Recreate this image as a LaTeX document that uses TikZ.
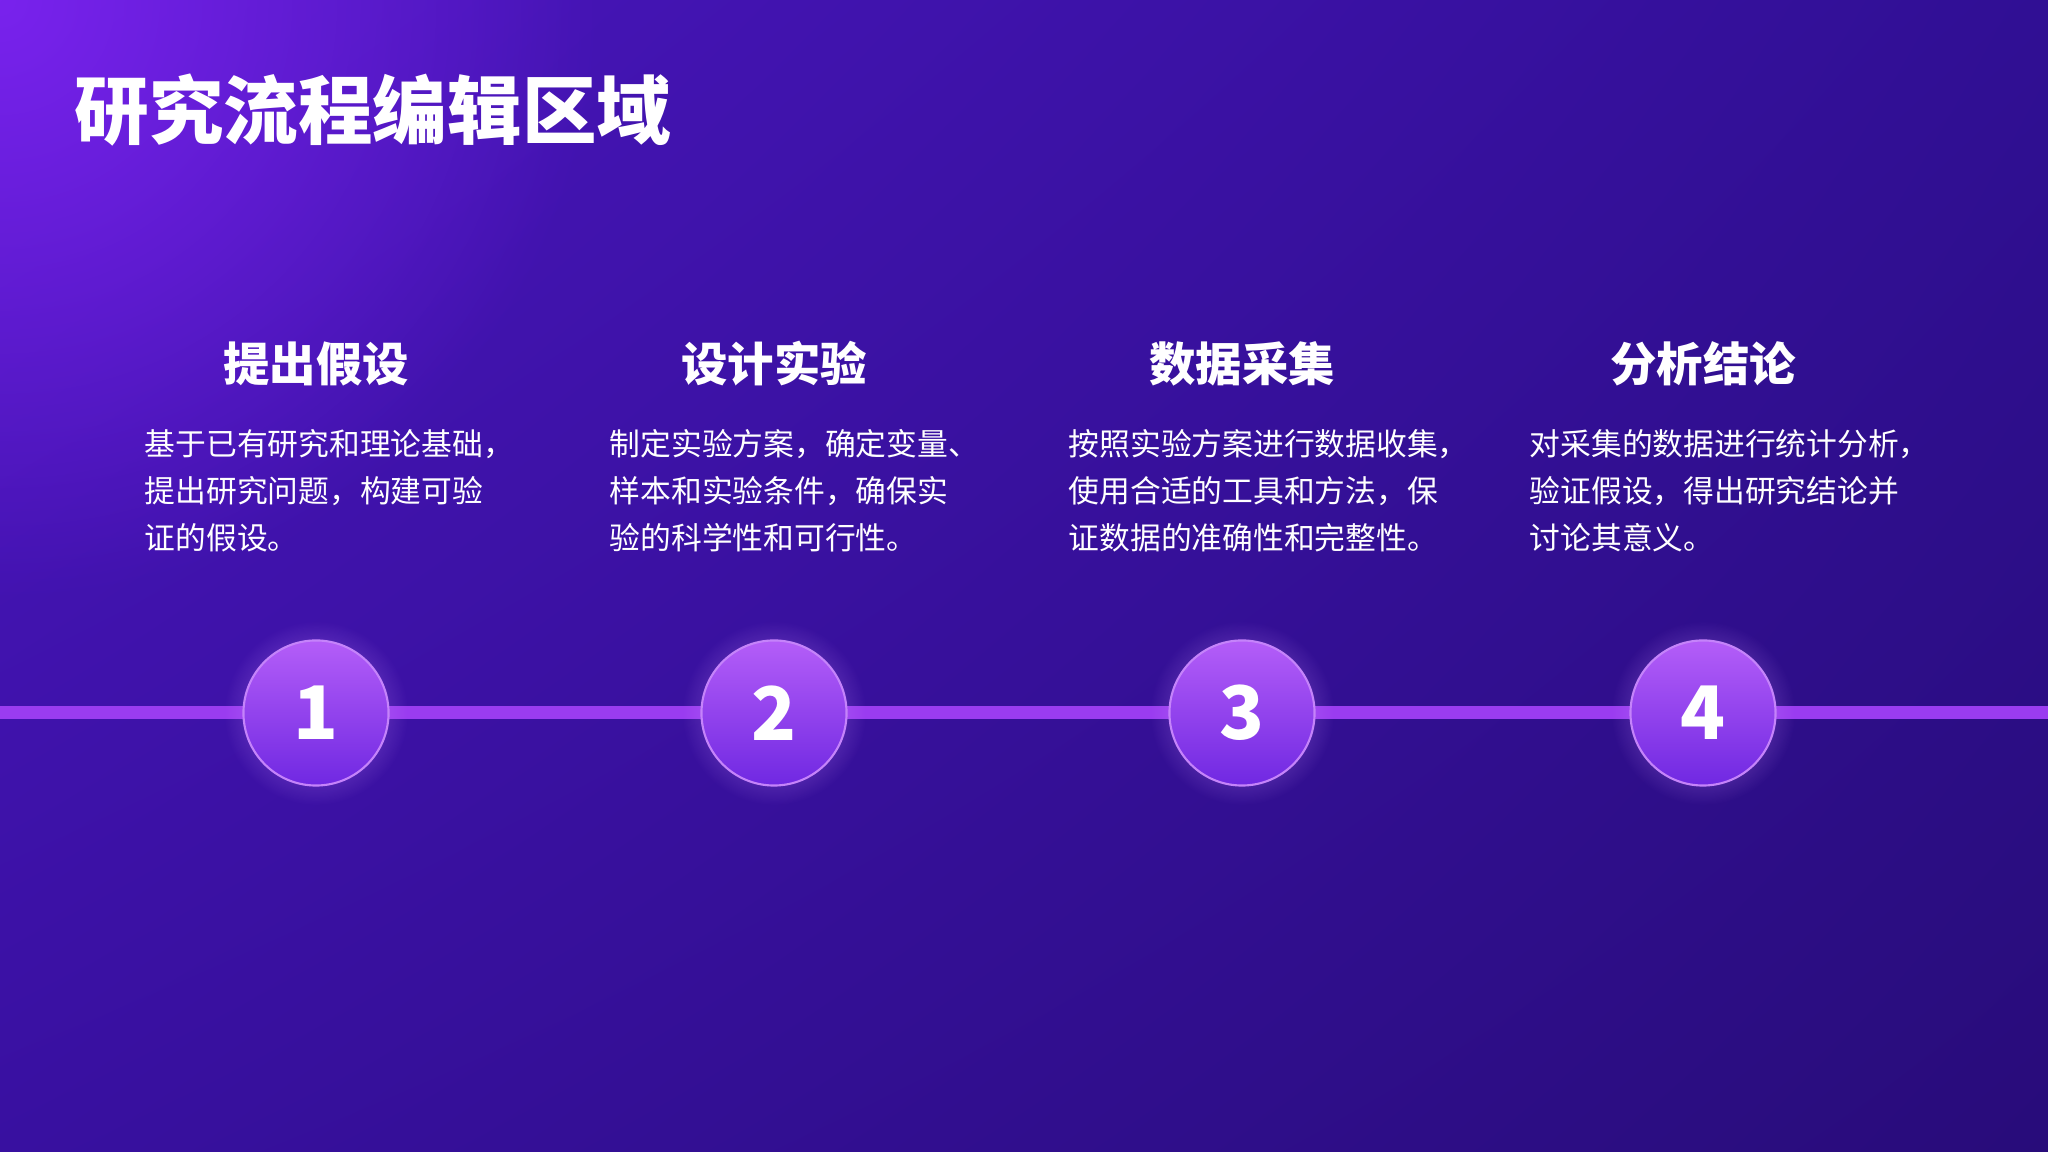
\documentclass[tikz,border=0pt]{standalone}
\usepackage{fontspec}
\setmainfont{Noto Sans CJK SC}
\usetikzlibrary{positioning,fadings,shadings}
\definecolor{bgtl}{HTML}{4C16C0}
\definecolor{bgtr}{HTML}{300F94}
\definecolor{bgbl}{HTML}{3810A0}
\definecolor{bgbr}{HTML}{280C7A}
\definecolor{glowtl}{HTML}{7E24F2}
\definecolor{linecol}{HTML}{9A3CF0}
\definecolor{balltop}{HTML}{B45EF8}
\definecolor{ballbot}{HTML}{7028E2}
\definecolor{ballrim}{HTML}{C98CFB}
\tikzfading[name=softglow, inner color=transparent!0, outer color=transparent!100]
\tikzset{
  stepball/.style={circle, minimum size=1.45cm, inner sep=0pt,
    top color=balltop, bottom color=ballbot, draw=ballrim!80!balltop, line width=0.6pt,
    text=white, font=\fontsize{21}{22}\selectfont\bfseries},
  steptitle/.style={anchor=base, inner sep=0pt, text=white,
    font=\fontsize{13.2}{14}\selectfont\bfseries},
  stepbody/.style={anchor=base west, inner sep=0pt, align=left, text=white,
    font=\fontsize{8.75}{13.4}\selectfont},
}
\begin{document}
\begin{tikzpicture}[x=0.01cm,y=0.01cm]
\useasboundingbox (0,0) rectangle (2048,1152);
% background
\shade[upper left=bgtl, upper right=bgtr, lower left=bgbl, lower right=bgbr]
  (0,0) rectangle (2048,1152);
\begin{scope}
\clip (0,0) rectangle (2048,1152);
\fill[glowtl, path fading=softglow, fill opacity=0.9] (0,1152) circle (600);
\end{scope}
\node[anchor=base west, inner sep=0pt, text=white,
  font=\fontsize{21.2}{22}\selectfont\bfseries] (title) at (74,1013) {研究流程编辑区域};
% timeline
\coordinate (lstart) at (0,439);
\coordinate (lend) at (2048,439);
\coordinate (p1) at (316,439);
\coordinate (p2) at (774,439);
\coordinate (p3) at (1242,439);
\coordinate (p4) at (1703,439);
\draw[linecol, line width=0.13cm] (lstart) -- (lend);
\fill[ballrim, path fading=softglow, opacity=0.7] (p1) circle (92);
\fill[ballrim, path fading=softglow, opacity=0.7] (p2) circle (92);
\fill[ballrim, path fading=softglow, opacity=0.7] (p3) circle (92);
\fill[ballrim, path fading=softglow, opacity=0.7] (p4) circle (92);
\node[stepball] (c1) at (p1) {1};
\node[stepball] (c2) at (p2) {2};
\node[stepball] (c3) at (p3) {3};
\node[stepball] (c4) at (p4) {4};
% steps
\node[steptitle] (t1) at (316,770) {提出假设};
\node[steptitle] (t2) at (774,770) {设计实验};
\node[steptitle] (t3) at (1242,770) {数据采集};
\node[steptitle] (t4) at (1703,770) {分析结论};
\node[stepbody] (b1) at (144,602) {基于已有研究和理论基础，\\提出研究问题，构建可验\\证的假设。};
\node[stepbody] (b2) at (609,602) {制定实验方案，确定变量、\\样本和实验条件，确保实\\验的科学性和可行性。};
\node[stepbody] (b3) at (1068,602) {按照实验方案进行数据收集，\\使用合适的工具和方法，保\\证数据的准确性和完整性。};
\node[stepbody] (b4) at (1529,602) {对采集的数据进行统计分析，\\验证假设，得出研究结论并\\讨论其意义。};
\end{tikzpicture}
\end{document}
